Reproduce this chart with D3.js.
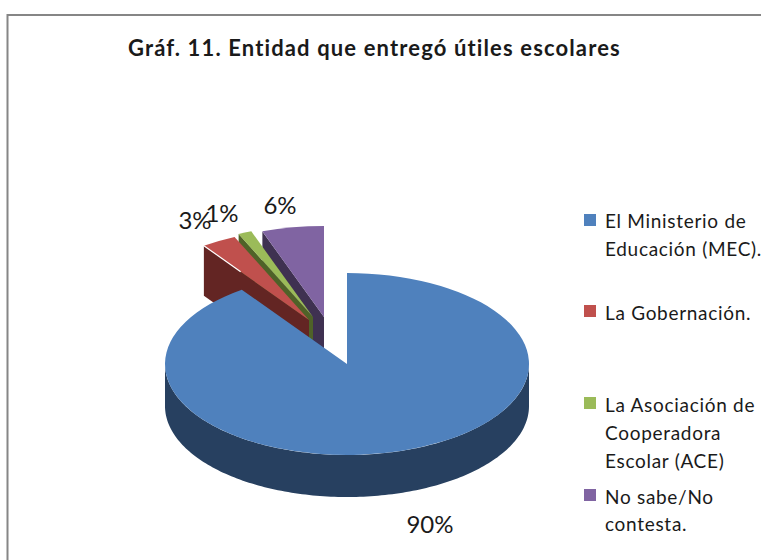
<!DOCTYPE html>
<html>
<head>
<meta charset="utf-8">
<script src="https://cdn.jsdelivr.net/npm/d3@7"></script>
<style>
  html, body { margin: 0; padding: 0; background: #fff; overflow: hidden; }
  text { font-family: Lato, "Open Sans", sans-serif; fill: #1a1a1a; }
</style>
</head>
<body>
<svg id="chart" width="761" height="560"></svg>
<script>
var chart_title = 'Gráf. 11. Entidad que entregó útiles escolares';
var categories = ['El Ministerio de Educación (MEC).', 'La Gobernación.', 'La Asociación de Cooperadora Escolar (ACE)', 'No sabe/No contesta.'];
var legend_lines = [['El Ministerio de', 'Educación (MEC).'], ['La Gobernación.'], ['La Asociación de', 'Cooperadora', 'Escolar (ACE)'], ['No sabe/No', 'contesta.']];
var values = [90.2, 3.1, 1.2, 5.5];

var top_colors = ['#4f81bd', '#c0504d', '#9bbb59', '#8064a2'];
var wall_colors = ['#274060', '#632523', '#4f6228', '#3f3151'];

// layout, in px
var cx = 347, cy = 364, rx = 182, ry = 91, depth = 42, side_depth = 50;
var explode = [[0, 0], [-38, -44], [-34, -47], [-23, -47]];
var label_pos = [[430, 533], [195, 229], [222, 222], [280, 214]];
var legend_y = [214, 305, 397, 489];
var legend_first_line = [228, 320, 412, 504];
var legend_steps = [28, 28, 28, 27];

var svg = d3.select('#chart');

svg.append('rect')
  .attr('x', 7.5).attr('y', 15)
  .attr('width', 800).attr('height', 600)
  .attr('fill', '#fff')
  .attr('stroke', '#868686')
  .attr('stroke-width', 2);

svg.append('text')
  .attr('x', 128).attr('y', 56)
  .attr('font-size', 22)
  .attr('font-weight', 700)
  .attr('letter-spacing', 1.13)
  .text(chart_title);

// clockwise from 12 o'clock, same order as the categories
var pie = d3.pie().sort(null)(values);
var arc = d3.arc().innerRadius(0).outerRadius(1);

// point on the ellipse for a pie angle
function rim(angle) {
  return [rx * Math.sin(angle), -ry * Math.cos(angle)];
}

var wall_line = d3.line();

// back to front: purple, green, red, then the big blue one
[3, 2, 1, 0].forEach(function(i) {
  var d = pie[i];
  var g = svg.append('g')
    .attr('transform', 'translate(' + (cx + explode[i][0]) + ',' + (cy + explode[i][1]) + ')');

  if (i === 0) {
    // outer wall, only the front half of the rim shows
    var angles = d3.range(Math.PI / 2, Math.PI * 1.5 + 0.01, 0.02);
    var front = angles.map(rim);
    var below = front.slice().reverse().map(function(p) { return [p[0], p[1] + depth]; });
    g.append('path')
      .attr('d', wall_line(front.concat(below)) + 'Z')
      .attr('fill', wall_colors[i]);
  } else {
    // side wall under the left edge of the slice
    var p = rim(d.startAngle);
    g.append('path')
      .attr('d', wall_line([[0, 0], p, [p[0], p[1] + side_depth], [0, side_depth]]) + 'Z')
      .attr('fill', wall_colors[i]);
  }

  g.append('path')
    .attr('transform', 'scale(' + rx + ',' + ry + ')')
    .attr('d', arc(d))
    .attr('fill', top_colors[i]);

  // thin light seam on the outer part of the red edge
  if (i === 1) {
    var e = rim(d.startAngle);
    g.append('path')
      .attr('d', wall_line([e, [e[0] * 0.65, e[1] * 0.65]]))
      .attr('stroke', '#fff')
      .attr('stroke-width', 1.2);
  }
});

// percentages
pie.forEach(function(d, i) {
  svg.append('text')
    .attr('x', label_pos[i][0]).attr('y', label_pos[i][1])
    .attr('text-anchor', 'middle')
    .attr('font-size', 24)
    .text(Math.round(d.value) + '%');
});

// legend
categories.forEach(function(name, i) {
  svg.append('rect')
    .attr('x', 584).attr('y', legend_y[i])
    .attr('width', 12).attr('height', 12)
    .attr('fill', top_colors[i]);
  legend_lines[i].forEach(function(line, j) {
    svg.append('text')
      .attr('x', 605).attr('y', legend_first_line[i] + j * legend_steps[i])
      .attr('font-size', 19)
      .attr('letter-spacing', 0.7)
      .text(line);
  });
});
</script>
</body>
</html>
